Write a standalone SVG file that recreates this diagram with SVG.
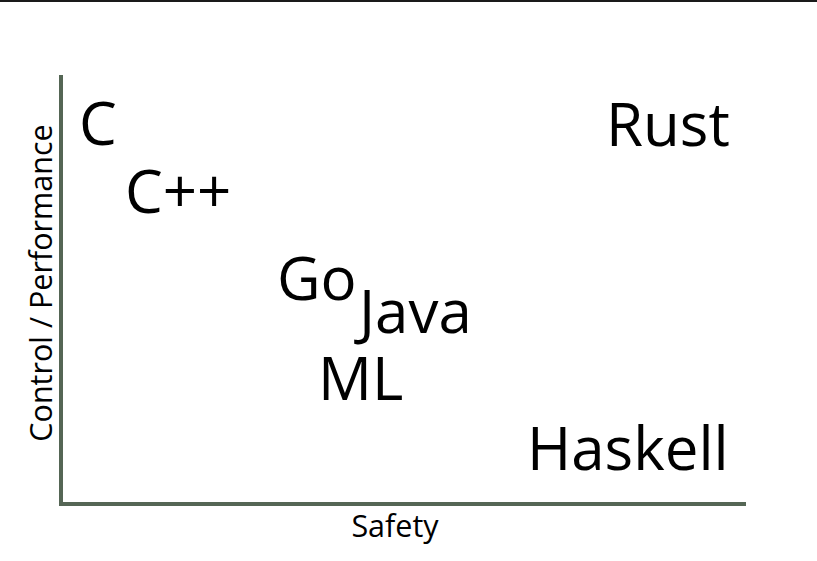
<svg xmlns="http://www.w3.org/2000/svg" width="817" height="561" viewBox="0 0 817 561">
  <style>
    .lang { font-family: "Open Sans", "Noto Sans", sans-serif; font-size: 60px; fill: #000; }
    .axis-label { font-family: "Open Sans", "Noto Sans", sans-serif; font-size: 30.5px; fill: #000; }
    .axis { stroke: #556655; stroke-width: 4; fill: none; }
  </style>
  <rect width="817" height="561" fill="#fff"/>
  <rect x="0" y="0" width="817" height="2" fill="#1a1a1a"/>
  <g id="axes">
    <line class="axis" x1="61" y1="75" x2="61" y2="506"/>
    <line class="axis" x1="59" y1="504" x2="746" y2="504"/>
  </g>
  <g id="labels">
    <text class="axis-label" x="395" y="537" text-anchor="middle">Safety</text>
    <text class="axis-label" transform="translate(52,283) rotate(-90)" text-anchor="middle">Control / Performance</text>
  </g>
  <g id="C"><text class="lang" x="79" y="145">C</text></g>
  <g id="Cpp"><text class="lang" x="125" y="213">C++</text></g>
  <g id="Go"><text class="lang" x="277" y="300">Go</text></g>
  <g id="Java"><text class="lang" x="359" y="333">Java</text></g>
  <g id="ML"><text class="lang" x="318" y="400">ML</text></g>
  <g id="Rust"><text class="lang" x="606" y="146">Rust</text></g>
  <g id="Haskell"><text class="lang" x="527" y="470">Haskell</text></g>
</svg>
